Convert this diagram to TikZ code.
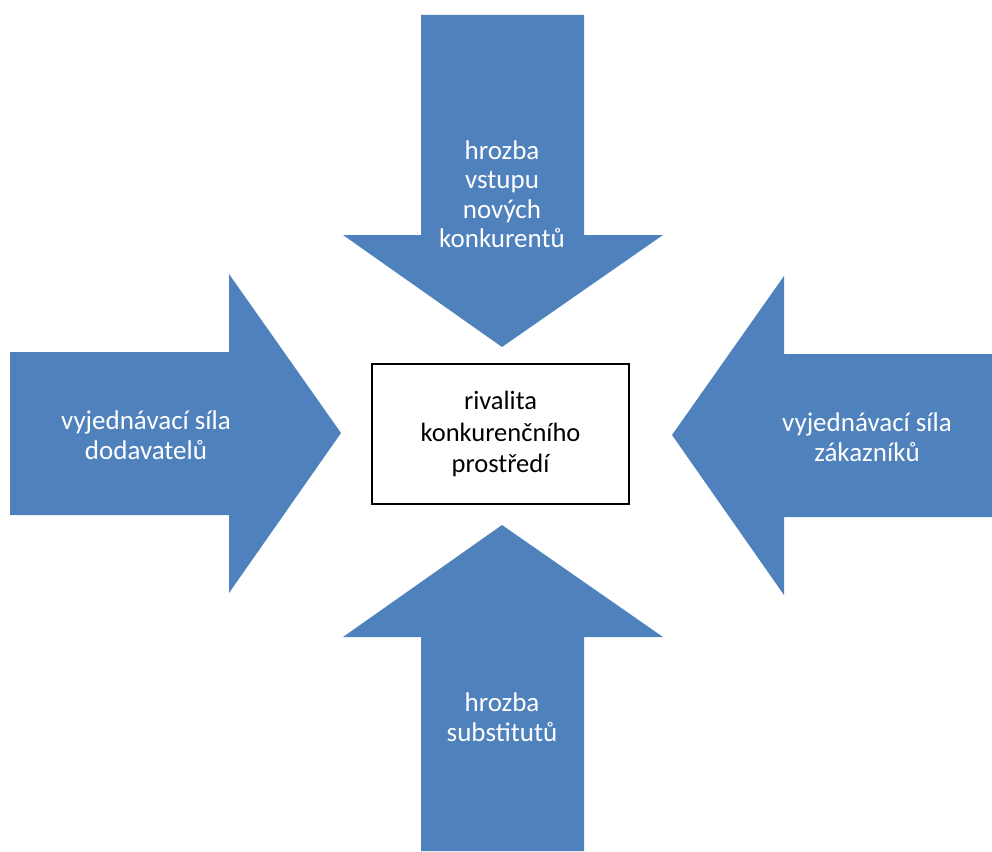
\documentclass[tikz,border=0pt]{standalone}
\usepackage{fontspec}
\setmainfont{Carlito}
\definecolor{forceblue}{HTML}{4F81BD}
\begin{document}
\begin{tikzpicture}[x=1pt,y=-1pt,
  force/.style={fill=forceblue,draw=none},
  forcetext/.style={text=white,align=center,font=\fontsize{27}{29.5}\selectfont,inner sep=0pt},
  centerbox/.style={draw=black,line width=1.3pt,fill=white,minimum width=257pt,minimum height=140pt,align=center,font=\fontsize{26.5}{31.5}\selectfont,inner sep=0pt}]
  \useasboundingbox (0,0) rectangle (992,851);
  % top arrow (entry of new competitors)
  \path[force] (421,15) -- (584,15) -- (584,235) -- (663,235) -- (502,347) -- (343,235) -- (421,235) -- cycle;
  % bottom arrow (substitutes)
  \path[force] (421,851) -- (584,851) -- (584,637) -- (663,637) -- (502,525) -- (343,637) -- (421,637) -- cycle;
  % left arrow (suppliers)
  \path[force] (10,352) -- (229,352) -- (229,274) -- (341,433) -- (229,593) -- (229,515) -- (10,515) -- cycle;
  % right arrow (customers)
  \path[force] (992,354) -- (784,354) -- (784,276) -- (672,435) -- (784,595) -- (784,517) -- (992,517) -- cycle;
  % labels
  \node[forcetext] (tnew) at (502,194) {hrozba\\vstupu\\nových\\konkurentů};
  \node[forcetext] (tsub) at (502,717) {hrozba\\substitutů};
  \node[forcetext] (tsup) at (146,435) {vyjednávací síla\\dodavatelů};
  \node[forcetext] (tcus) at (867,437) {vyjednávací síla\\zákazníků};
  % centre box
  \node[centerbox] (rival) at (500.5,434) {rivalita\\konkurenčního\\prostředí};
\end{tikzpicture}
\end{document}
